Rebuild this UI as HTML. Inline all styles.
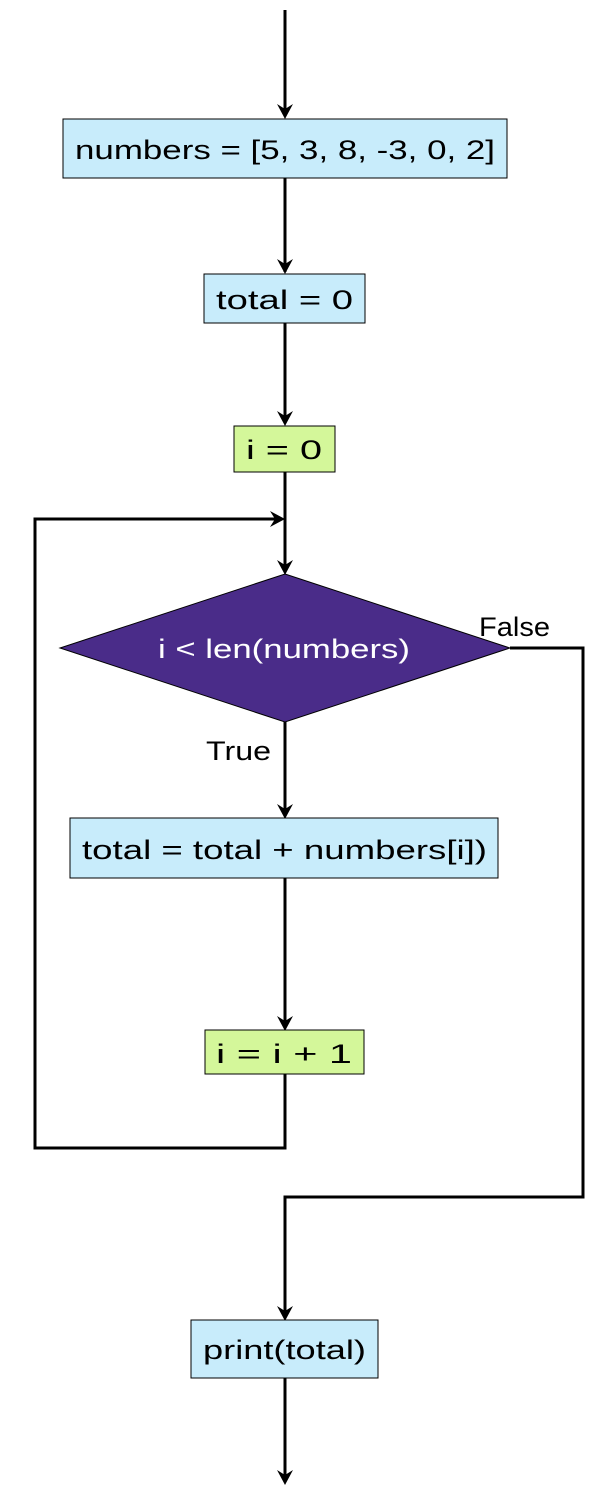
<!DOCTYPE html>
<html><head><style>body{margin:0;background:#fff}svg{display:block}</style></head><body>
<svg width="612" height="1512" xmlns="http://www.w3.org/2000/svg" font-family="Liberation Sans, DejaVu Sans, sans-serif" font-size="27">
<defs>
<path id="ad" d="M0,0 L-8,-15 L0,-10 L8,-15 Z" fill="#000"/>
<path id="ar" d="M0,0 L-15,-8 L-10,0 L-15,8 Z" fill="#000"/>
</defs>
<g stroke="#000" stroke-width="3" fill="none">
<line x1="285" y1="10" x2="285" y2="116"/>
<line x1="285" y1="178" x2="285" y2="272"/>
<line x1="285" y1="323" x2="285" y2="423"/>
<line x1="285" y1="472" x2="285" y2="572"/>
<polyline points="285,1074 285,1148 35,1148 35,519 282,519"/>
<line x1="285" y1="722" x2="285" y2="816"/>
<line x1="285" y1="878" x2="285" y2="1028"/>
<polyline points="510,648 583,648 583,1197 285,1197 285,1318"/>
<line x1="285" y1="1378" x2="285" y2="1482"/>
</g>
<use href="#ad" x="285" y="119"/>
<use href="#ad" x="285" y="274"/>
<use href="#ad" x="285" y="426"/>
<use href="#ad" x="285" y="575"/>
<use href="#ar" x="285" y="519"/>
<use href="#ad" x="285" y="819"/>
<use href="#ad" x="285" y="1031"/>
<use href="#ad" x="285" y="1321"/>
<use href="#ad" x="285" y="1485"/>
<g stroke="#000" stroke-width="1">
<rect x="63" y="119" width="444" height="59" fill="#c8ecfb"/>
<rect x="204" y="274" width="161" height="49" fill="#c8ecfb"/>
<rect x="234" y="426" width="101" height="46" fill="#d4f79a"/>
<polygon points="285,574 510,648 285,722 60,648" fill="#4a2c89"/>
<rect x="70" y="818" width="428" height="60" fill="#c8ecfb"/>
<rect x="205" y="1030" width="159" height="44" fill="#d4f79a"/>
<rect x="191" y="1320" width="187" height="58" fill="#c8ecfb"/>
</g>
<g lengthAdjust="spacingAndGlyphs">
<text x="75" y="159" textLength="420" lengthAdjust="spacingAndGlyphs">numbers = [5, 3, 8, -3, 0, 2]</text>
<text x="216" y="309" textLength="137" lengthAdjust="spacingAndGlyphs">total = 0</text>
<text x="246" y="459" textLength="76" lengthAdjust="spacingAndGlyphs">i = 0</text>
<text x="158" y="658" fill="#fff" textLength="252" lengthAdjust="spacingAndGlyphs">i &lt; len(numbers)</text>
<text x="82" y="859" textLength="405" lengthAdjust="spacingAndGlyphs">total = total + numbers[i])</text>
<text x="216" y="1063" textLength="136" lengthAdjust="spacingAndGlyphs">i = i + 1</text>
<text x="203" y="1359" textLength="163" lengthAdjust="spacingAndGlyphs">print(total)</text>
<text x="479" y="636" textLength="71" lengthAdjust="spacingAndGlyphs">False</text>
<text x="206" y="760" textLength="65" lengthAdjust="spacingAndGlyphs">True</text>
</g>
</svg>
</body></html>
